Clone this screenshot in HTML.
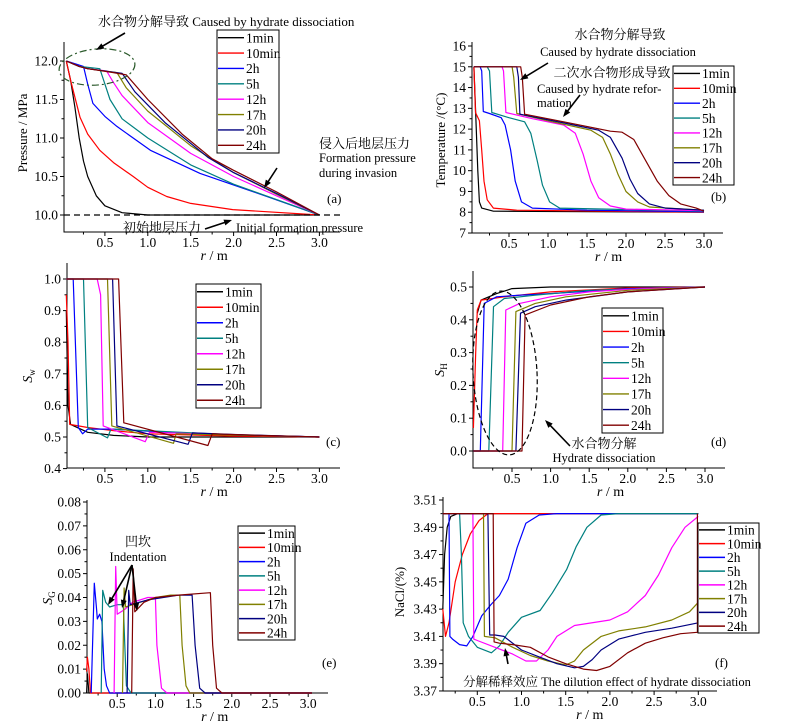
<!DOCTYPE html>
<html><head><meta charset="utf-8"><style>
body{margin:0;background:#fff}
svg{display:block;font-family:"Liberation Serif","Noto Serif CJK SC","Noto Sans CJK SC",serif}
</style></head><body>
<svg id="c" width="785" height="728" viewBox="0 0 785 728"></svg>
<script>
const legendLabels=["1min","10min","2h","5h","12h","17h","20h","24h"];
const colors=["#000000","#ff0000","#0000ff","#008080","#ff00ff","#808000","#000080","#800000"];
// (a) pressure
const a1=[[0.05,12],[0.1,11.75],[0.15,11.4],[0.2,11.0],[0.25,10.7],[0.3,10.5],[0.4,10.25],[0.5,10.12],[0.7,10.03],[1.0,10.0],[3.0,10.0]];
const a2=[[0.05,12],[0.1,11.75],[0.21,11.27],[0.3,11.05],[0.44,10.84],[0.6,10.68],[0.83,10.5],[1.0,10.36],[1.22,10.24],[1.5,10.15],[1.99,10.07],[3.0,10.0]];
const a3=[[0.05,12],[0.25,11.93],[0.3,11.7],[0.36,11.45],[0.5,11.28],[0.64,11.15],[1.03,10.84],[1.61,10.54],[2.39,10.24],[3.0,10.0]];
const a4=[[0.05,12],[0.2,11.93],[0.44,11.9],[0.5,11.7],[0.56,11.5],[0.7,11.25],[1.0,11.0],[1.5,10.65],[2.0,10.4],[2.5,10.2],[3.0,10.0]];
const a5=[[0.05,12],[0.2,11.93],[0.3,11.9],[0.52,11.87],[0.6,11.72],[0.7,11.55],[1.0,11.2],[1.5,10.8],[2.0,10.5],[2.5,10.25],[3.0,10.0]];
const a6=[[0.05,12],[0.2,11.93],[0.3,11.9],[0.64,11.85],[0.75,11.65],[1.0,11.35],[1.5,10.9],[2.0,10.55],[2.5,10.27],[3.0,10.0]];
const a7=[[0.05,12],[0.2,11.93],[0.3,11.9],[0.7,11.84],[0.85,11.6],[1.2,11.2],[1.7,10.75],[2.0,10.55],[2.5,10.28],[3.0,10.0]];
const a8=[[0.05,12],[0.2,11.93],[0.3,11.9],[0.6,11.85],[0.75,11.82],[1.0,11.5],[1.4,11.05],[1.75,10.73],[2.0,10.58],[2.5,10.3],[3.0,10.0]];
const aYTicks=[10.0,10.5,11.0,11.5,12.0];
const xTicks=[0.5,1.0,1.5,2.0,2.5,3.0];
// (b) temperature
const b1=[[0.05,15],[0.07,13],[0.1,10],[0.12,8.5],[0.15,8.2],[0.3,8.05],[3.0,8.0]];
const b2=[[0.05,15],[0.07,12.8],[0.12,12.4],[0.15,11],[0.18,9.5],[0.22,8.6],[0.3,8.2],[0.6,8.1],[3.0,8.0]];
const b3=[[0.05,15],[0.13,15],[0.15,14.8],[0.17,12.85],[0.25,12.75],[0.4,12.55],[0.45,12.2],[0.52,11],[0.58,9.5],[0.66,8.5],[0.8,8.2],[1.5,8.1],[3.0,8.02]];
const b4=[[0.05,15],[0.22,15],[0.25,14.8],[0.28,12.8],[0.5,12.55],[0.7,12.35],[0.78,11.8],[0.86,10.5],[0.93,9.3],[1.02,8.5],[1.15,8.2],[3.0,8.05]];
const b5=[[0.05,15],[0.41,15],[0.43,14.8],[0.46,12.8],[0.8,12.5],[1.2,12.2],[1.35,11.8],[1.45,10.8],[1.55,9.5],[1.65,8.7],[1.8,8.3],[2.0,8.15],[3.0,8.08]];
const b6=[[0.05,15],[0.54,15],[0.56,14.5],[0.6,12.75],[1.0,12.4],[1.55,11.95],[1.7,11.6],[1.8,10.8],[1.9,9.8],[2.0,9.0],[2.15,8.5],[2.3,8.25],[3.0,8.1]];
const b7=[[0.05,15],[0.6,15],[0.62,14.5],[0.64,12.72],[1.2,12.3],[1.65,11.95],[1.8,11.6],[1.95,10.6],[2.05,9.6],[2.15,8.9],[2.3,8.4],[2.5,8.2],[3.0,8.1]];
const b8=[[0.05,15],[0.65,15],[0.67,14.5],[0.7,12.72],[1.2,12.35],[1.8,11.9],[1.95,11.85],[2.1,11.5],[2.25,10.5],[2.4,9.5],[2.55,8.8],[2.7,8.4],[2.9,8.2],[3.0,8.05]];
const bYTicks=[7,8,9,10,11,12,13,14,15,16];
// (c) Sw
const c1=[[0.05,0.9],[0.07,0.6],[0.1,0.54],[0.3,0.515],[0.6,0.505],[1.0,0.5],[3.0,0.5]];
const c2=[[0.05,0.95],[0.07,0.8],[0.09,0.54],[0.3,0.53],[0.6,0.52],[1.0,0.51],[2.0,0.503],[3.0,0.5]];
const c3=[[0.05,1],[0.13,1],[0.19,0.53],[0.24,0.51],[0.3,0.525],[0.6,0.525],[1.5,0.51],[3.0,0.5]];
const c4=[[0.05,1],[0.25,1],[0.3,0.53],[0.53,0.497],[0.57,0.525],[1.0,0.52],[2.0,0.507],[3.0,0.5]];
const c5=[[0.05,1],[0.41,1],[0.45,0.95],[0.48,0.535],[0.97,0.485],[1.02,0.515],[2.0,0.507],[3.0,0.5]];
const c6=[[0.05,1],[0.53,1],[0.58,0.535],[1.3,0.48],[1.33,0.51],[2.0,0.506],[3.0,0.5]];
const c7=[[0.05,1],[0.59,1],[0.64,0.535],[1.47,0.477],[1.52,0.513],[2.0,0.508],[3.0,0.5]];
const c8=[[0.05,1],[0.66,1],[0.72,0.545],[1.7,0.473],[1.75,0.51],[2.2,0.506],[3.0,0.5]];
const cYTicks=[0.4,0.5,0.6,0.7,0.8,0.9,1.0];
// (d) SH
const d1=[[0.05,0.42],[0.1,0.46],[0.3,0.48],[0.5,0.495],[1.0,0.5],[3.0,0.5]];
const d2=[[0.0,0.07],[0.03,0.3],[0.05,0.43],[0.1,0.46],[0.4,0.47],[1.0,0.485],[2.0,0.497],[3.0,0.5]];
const d3=[[0.0,0],[0.09,0],[0.14,0.45],[0.3,0.47],[0.6,0.475],[1.0,0.48],[2.0,0.495],[3.0,0.5]];
const d4=[[0.0,0],[0.2,0],[0.26,0.44],[0.4,0.465],[0.8,0.475],[1.5,0.49],[3.0,0.5]];
const d5=[[0.0,0],[0.38,0],[0.42,0.43],[0.6,0.45],[1.0,0.47],[1.5,0.485],[2.0,0.493],[3.0,0.5]];
const d6=[[0.0,0],[0.5,0],[0.55,0.425],[0.8,0.45],[1.2,0.47],[2.0,0.49],[3.0,0.5]];
const d7=[[0.0,0],[0.55,0],[0.61,0.42],[0.8,0.44],[1.2,0.46],[2.0,0.485],[3.0,0.5]];
const d8=[[0.0,0],[0.63,0],[0.67,0.415],[1.0,0.445],[1.5,0.47],[2.0,0.485],[3.0,0.5]];
const dYTicks=[0.0,0.1,0.2,0.3,0.4,0.5];
// (e) SG
const e1=[[0.1,0],[0.11,0.008],[0.13,0],[3.05,0]];
const e2=[[0.1,0.009],[0.11,0.015],[0.13,0.01],[0.15,0],[3.05,0]];
const e3=[[0.16,0],[0.2,0.046],[0.23,0.035],[0.24,0.031],[0.27,0.033],[0.3,0.03],[0.33,0.01],[0.36,0.003],[0.4,0],[3.05,0]];
const e4=[[0.29,0],[0.31,0.043],[0.35,0.038],[0.4,0.036],[0.5,0.037],[0.58,0.037],[0.6,0.02],[0.62,0.003],[0.68,0],[3.05,0]];
const e5=[[0.46,0],[0.48,0.053],[0.5,0.033],[0.6,0.035],[0.7,0.038],[0.9,0.04],[1.0,0.04],[1.02,0.02],[1.08,0.002],[1.15,0],[3.05,0]];
const e6=[[0.57,0],[0.59,0.044],[0.61,0.036],[0.8,0.038],[1.0,0.04],[1.2,0.041],[1.32,0.041],[1.35,0.02],[1.4,0.003],[1.45,0],[3.05,0]];
const e7=[[0.63,0],[0.65,0.043],[0.67,0.037],[0.9,0.039],[1.3,0.041],[1.48,0.041],[1.52,0.02],[1.58,0.002],[1.65,0],[3.05,0]];
const e8=[[0.69,0],[0.71,0.052],[0.73,0.034],[0.85,0.038],[1.0,0.04],[1.3,0.041],[1.72,0.042],[1.75,0.02],[1.8,0.002],[1.87,0],[3.05,0]];
const eYTicks=[0.00,0.01,0.02,0.03,0.04,0.05,0.06,0.07,0.08];
// (f) NaCl
const f1=[[0.11,3.43],[0.13,3.47],[0.16,3.49],[0.2,3.498],[0.28,3.5],[3.0,3.5]];
const f2=[[0.11,3.43],[0.14,3.41],[0.18,3.42],[0.25,3.45],[0.33,3.47],[0.42,3.485],[0.52,3.495],[0.62,3.5],[3.0,3.5]];
const f3=[[0.11,3.5],[0.18,3.5],[0.19,3.41],[0.22,3.408],[0.3,3.404],[0.38,3.403],[0.45,3.41],[0.55,3.425],[0.65,3.433],[0.75,3.44],[0.85,3.452],[0.95,3.475],[1.05,3.493],[1.2,3.499],[1.4,3.5],[3.0,3.5]];
const f4=[[0.11,3.5],[0.3,3.5],[0.32,3.47],[0.34,3.42],[0.4,3.41],[0.5,3.402],[0.66,3.398],[0.75,3.403],[0.85,3.413],[1.0,3.424],[1.21,3.429],[1.35,3.442],[1.51,3.459],[1.62,3.476],[1.74,3.49],[1.9,3.499],[2.1,3.5],[3.0,3.5]];
const f5=[[0.11,3.5],[0.45,3.5],[0.46,3.408],[0.5,3.407],[0.7,3.402],[0.9,3.397],[1.05,3.392],[1.17,3.392],[1.3,3.4],[1.4,3.41],[1.6,3.418],[2.0,3.422],[2.2,3.428],[2.4,3.44],[2.55,3.455],[2.7,3.475],[2.85,3.49],[3.0,3.498]];
const f6=[[0.11,3.5],[0.57,3.5],[0.58,3.41],[0.7,3.409],[0.9,3.402],[1.1,3.396],[1.3,3.392],[1.5,3.389],[1.6,3.392],[1.7,3.4],[1.9,3.41],[2.1,3.414],[2.4,3.417],[2.7,3.422],[2.9,3.428],[3.0,3.435]];
const f7=[[0.11,3.5],[0.62,3.5],[0.64,3.411],[0.7,3.411],[0.8,3.41],[1.0,3.4],[1.2,3.395],[1.4,3.39],[1.6,3.387],[1.7,3.388],[1.8,3.393],[1.9,3.4],[2.1,3.408],[2.4,3.413],[2.7,3.416],[3.0,3.42]];
const f8=[[0.11,3.5],[0.68,3.5],[0.69,3.406],[0.75,3.405],[0.9,3.404],[1.1,3.402],[1.3,3.395],[1.5,3.39],[1.7,3.386],[1.85,3.385],[2.0,3.388],[2.2,3.398],[2.4,3.405],[2.6,3.409],[2.8,3.412],[2.99,3.413],[2.99,3.5]];
const fYTicks=[3.37,3.39,3.41,3.43,3.45,3.47,3.49,3.51];

const NS="http://www.w3.org/2000/svg";
const svg=document.getElementById('c');
function el(tag,attrs,parent,text){const e=document.createElementNS(NS,tag);for(const k in attrs)e.setAttribute(k,attrs[k]);if(text!==undefined)e.textContent=text;(parent||svg).appendChild(e);return e;}

function panel(id,cfg,series,yTicks,yDec,yMinor){
  const g=el('g',{});
  
  
  const X=r=>cfg.x0+cfg.kx*r, Y=v=>cfg.y0-cfg.ky*(v-cfg.v0);
  const ax=el('path',{d:`M${cfg.L},${cfg.T}V${cfg.B}H${cfg.R}`,stroke:'#000',fill:'none','stroke-width':1},g);
  
  
  yTicks.forEach((t,i)=>{
    const y=Y(t);
    el('line',{x1:cfg.L-4,x2:cfg.L,y1:y,y2:y,stroke:'#000'},g);
    const tx=el('text',{x:cfg.L-6,y:y+4.5,'text-anchor':'end','font-size':13.5},g,t.toFixed(yDec));
    
    
    if(i<yTicks.length-1){const ym=Y(t+yMinor);el('line',{x1:cfg.L-2.5,x2:cfg.L,y1:ym,y2:ym,stroke:'#000'},g);}
  });
  xTicks.forEach(t=>{
    const x=X(t);
    el('line',{x1:x,x2:x,y1:cfg.B,y2:cfg.B+4,stroke:'#000'},g);
    const xm=X(t-0.25);el('line',{x1:xm,x2:xm,y1:cfg.B,y2:cfg.B+2.5,stroke:'#000'},g);
    const tx=el('text',{x:x,y:cfg.B+15,'text-anchor':'middle','font-size':13.5},g,t.toFixed(1));
    
    
  });
  const xl=el('text',{x:(X(0.5)+X(3))/2+2,y:cfg.B+28,'text-anchor':'middle','font-size':14},g);
  
  
  el('tspan',{'font-style':'italic'},xl,'r');el('tspan',{},xl,' / m');
  series.forEach((s,i)=>{
    const p=el('polyline',{points:s.map(q=>X(q[0]).toFixed(1)+','+Y(q[1]).toFixed(1)).join(' '),fill:'none',stroke:colors[i],'stroke-width':1.2,'stroke-linejoin':'round'},g);
    
    
  });
  const lg=el('g',{},g);
  
  
  const [lx,ly,lw,lh]=cfg.leg;
  el('rect',{x:lx,y:ly,width:lw,height:lh,fill:'#fff',stroke:'#000','stroke-width':1},lg);
  const step=lh/8;
  legendLabels.forEach((lab,i)=>{
    const yy=ly+step*(i+0.5);
    el('line',{x1:lx+1,x2:lx+27,y1:yy,y2:yy,stroke:colors[i],'stroke-width':1.4},lg);
    const t=el('text',{x:lx+29,y:yy+4.8,'font-size':13.5},lg,lab);
    
    
  });
  return {X,Y,g};
}
function txt(x,y,s,size,anchor,extra){const t=el('text',Object.assign({x:x,y:y,'font-size':size||12.5,'text-anchor':anchor||'start'},extra||{}),svg,s);return t;}
function arrow(x1,y1,x2,y2){
  const ang=Math.atan2(y2-y1,x2-x1),L=8,w=3;
  el('line',{x1:x1,y1:y1,x2:x2-Math.cos(ang)*5,y2:y2-Math.sin(ang)*5,stroke:'#000','stroke-width':1.6});
  const p=[[x2,y2],[x2-L*Math.cos(ang)+w*Math.sin(ang),y2-L*Math.sin(ang)-w*Math.cos(ang)],[x2-L*Math.cos(ang)-w*Math.sin(ang),y2-L*Math.sin(ang)+w*Math.cos(ang)]];
  el('polygon',{points:p.map(q=>q.join(',')).join(' '),fill:'#000'});
}

// panel a
const A=panel('a',{x0:62,kx:85.8,v0:12,y0:61,ky:77,L:64,R:340,T:42,B:232,leg:[217,30,62,123]},[a1,a2,a3,a4,a5,a6,a7,a8],aYTicks,1,0.25);
el('line',{x1:64,x2:342,y1:A.Y(10),y2:A.Y(10),stroke:'#000','stroke-dasharray':'6,4','stroke-width':1.2});
el('ellipse',{cx:97,cy:67,rx:38,ry:18,fill:'none',stroke:'#2b5a2b','stroke-width':1.2,'stroke-dasharray':'7,3,2,3',transform:'rotate(-5 97 67)'});
txt(98,26,'水合物分解导致  Caused by hydrate dissociation',13);
arrow(125,33,96,50);
txt(319,148,'侵入后地层压力',13);txt(319,162,'Formation pressure',12.5);txt(319,177,'during invasion',12.5);
arrow(277,168,264,188);
txt(327,203,'(a)',13);
txt(123,232,'初始地层压力',13);arrow(205,229,232,220);txt(236,232,'Initial formation pressure',12.5);
el('text',{x:27,y:133,'font-size':13,'text-anchor':'middle',transform:'rotate(-90 27 133)'},svg,'Pressure / MPa');

// panel b
panel('b',{x0:470,kx:78,v0:16,y0:46,ky:20.78,L:472,R:723,T:42,B:233,leg:[673,66,61,119]},[b1,b2,b3,b4,b5,b6,b7,b8],bYTicks,0,0.5);
txt(620,39,'水合物分解导致',13,'middle');
txt(618,56,'Caused by hydrate dissociation',12.5,'middle');
arrow(548,63,520,80);
txt(612,77,'二次水合物形成导致',13,'middle');
txt(537,93,'Caused by hydrate refor-',12.5);txt(537,107,'mation',12.5);
arrow(580,95,563,117);
txt(711,201,'(b)',13);
el('text',{x:445,y:140,'font-size':13,'text-anchor':'middle',transform:'rotate(-90 445 140)'},svg,'Temperature /(°C)');

// panel c
panel('c',{x0:62,kx:85.8,v0:1.0,y0:279,ky:316,L:67,R:340,T:263,B:468,leg:[196,284,65,124]},[c1,c2,c3,c4,c5,c6,c7,c8],cYTicks,1,0.05);
txt(326,446,'(c)',13);
const yc=el('text',{x:32,y:376,'font-size':14,'text-anchor':'middle',transform:'rotate(-90 32 376)'},svg);
el('tspan',{'font-style':'italic'},yc,'S');el('tspan',{'font-size':9,dy:3},yc,'w');

// panel d
panel('d',{x0:473.4,kx:77.2,v0:0.5,y0:287,ky:328,L:473,R:725,T:271,B:468,leg:[602,308,61,125]},[d1,d2,d3,d4,d5,d6,d7,d8],dYTicks,1,0.05);
el('ellipse',{cx:505,cy:373,rx:32,ry:82,fill:'none',stroke:'#000','stroke-width':1.2,'stroke-dasharray':'5,3',transform:'rotate(-3 505 373)'});
arrow(570,446,545,420);
txt(604,448,'水合物分解',13,'middle');txt(604,462,'Hydrate dissociation',12.5,'middle');
txt(711,446,'(d)',13);
const yd=el('text',{x:444,y:370,'font-size':14,'text-anchor':'middle',transform:'rotate(-90 444 370)'},svg);
el('tspan',{'font-style':'italic'},yd,'S');el('tspan',{'font-size':9,dy:3},yd,'H');

// panel e
panel('e',{x0:79,kx:76.4,v0:0,y0:693,ky:2387.5,L:87,R:328,T:500,B:693,leg:[238,526,57,114]},[e1,e2,e3,e4,e5,e6,e7,e8],eYTicks,2,0.005);
txt(138,546,'凹坎',13,'middle');txt(138,561,'Indentation',12.5,'middle');
arrow(132,565,108,605);arrow(132,565,122,608);arrow(132,565,137,611);
txt(322,667,'(e)',13);
const ye=el('text',{x:52,y:598,'font-size':14,'text-anchor':'middle',transform:'rotate(-90 52 598)'},svg);
el('tspan',{'font-style':'italic'},ye,'S');el('tspan',{'font-size':9,dy:3},ye,'G');

// panel f
panel('f',{x0:433.1,kx:88.4,v0:3.51,y0:500,ky:1364,L:443,R:717,T:497,B:691,leg:[698,523,61,110]},[f1,f2,f3,f4,f5,f6,f7,f8],fYTicks,2,0.01);
arrow(508,664,505,648);
txt(463,686,'分解稀释效应  The dilution effect of hydrate dissociation',12.5);
txt(715,667,'(f)',13);
el('text',{x:404,y:592,'font-size':13,'text-anchor':'middle',transform:'rotate(-90 404 592)'},svg,'NaCl/(%)');
</script>
</body></html>
